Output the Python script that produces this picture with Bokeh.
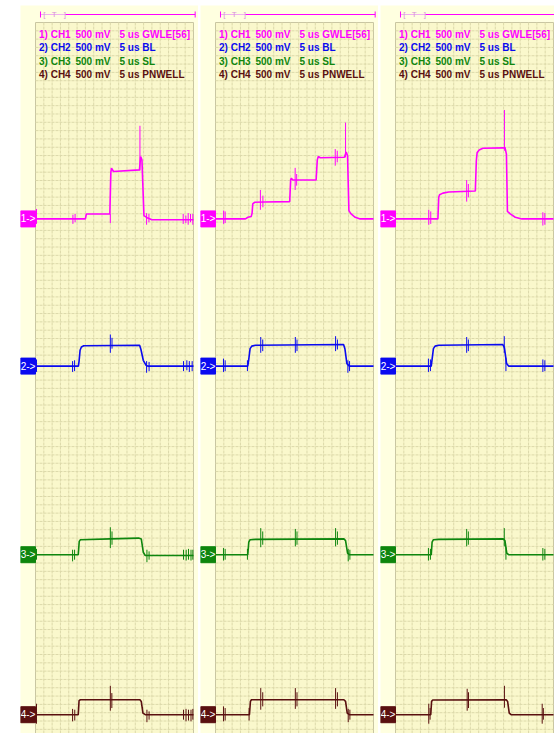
import numpy as np
from bokeh.plotting import figure
from bokeh.layouts import row
from bokeh.models import Range1d
from bokeh.core.properties import value
from bokeh.embed import file_html
from bokeh.resources import INLINE

# ---------------- data ----------------
CHANNELS = ["CH1", "CH2", "CH3", "CH4"]
VOLT_DIV = ["500 mV", "500 mV", "500 mV", "500 mV"]
TIME_DIV = ["5 us", "5 us", "5 us", "5 us"]
SIGNALS = ["GWLE[56]", "BL", "SL", "PNWELL"]
COLORS = ["#FF00FF", "#0A0AF0", "#0E860E", "#5A1010"]
# ground-marker depth below the top graticule line (V)
CH_OFFSET_V = [11.81, 20.66, 32.0, 41.62]

US_PER_DIV = 5.0
V_PER_DIV = 0.5
N_DIV_X = 19

# ---- panel 1 ----
p1_ch1_t = [0, 30.0, 30.6, 44.7, 45.3, 45.7, 46.9, 62.5, 63.2, 64.0, 65.2, 67.5, 70, 95]
p1_ch1_v = [0, 0, 0.30, 0.30, 2.8, 3.05, 2.85, 2.95, 3.75, 3.55, 0.2, 0.05, -0.05, -0.05]
p1_ch1_spk_t = [0.6, 22.5, 23.8, 45.0, 62.8, 66.8, 68.2, 88.8, 90.4, 91.8, 93.2, 94.6]
p1_ch1_spk_lo = [-0.3, -0.3, -0.2, -0.25, 2.9, -0.35, -0.2, -0.3, -0.25, -0.35, -0.2, -0.35]
p1_ch1_spk_hi = [0.6, 0.25, 0.3, 0.3, 5.6, 0.35, 0.3, 0.3, 0.2, 0.35, 0.3, 0.3]

p1_ch2_t = [0, 25.8, 26.2, 26.8, 27.6, 29, 62.6, 63.4, 64.8, 66.5, 67.5, 95]
p1_ch2_v = [0, 0, 0.3, 0.95, 1.15, 1.22, 1.25, 1.0, 0.35, 0.05, 0, 0]
p1_ch2_spk_t = [0.6, 22.3, 23.5, 45.0, 46.0, 66.8, 68.3, 89, 91, 92.5, 94.2]
p1_ch2_spk_lo = [-0.35, -0.35, -0.3, 0.8, 1.05, -0.4, -0.3, -0.3, -0.25, -0.35, -0.3]
p1_ch2_spk_hi = [0.4, 0.3, 0.35, 1.9, 1.7, 0.3, 0.25, 0.3, 0.35, 0.3, 0.3]

p1_ch3_t = [0, 25.7, 26.3, 27, 45, 62, 63.6, 64.8, 66, 95]
p1_ch3_v = [0, 0, 0.8, 0.9, 0.95, 1.0, 0.95, 0.15, -0.05, -0.05]
p1_ch3_spk_t = [0.6, 22.3, 23.5, 45.0, 46.0, 67, 68.3, 89, 90.6, 92, 93.5, 94.6]
p1_ch3_spk_lo = [-0.3, -0.4, -0.3, 0.4, 0.6, -0.45, -0.3, -0.3, -0.35, -0.3, -0.35, -0.3]
p1_ch3_spk_hi = [0.35, 0.3, 0.3, 1.65, 1.4, 0.3, 0.2, 0.3, 0.3, 0.35, 0.3, 0.3]

p1_ch4_t = [0, 25.7, 26.2, 27, 62.8, 63.6, 64.6, 66, 95]
p1_ch4_v = [0, 0, 0.85, 0.9, 0.9, 0.8, 0.1, 0, 0]
p1_ch4_spk_t = [0.6, 22.3, 23.6, 45, 45.9, 67, 68.3, 89, 90.5, 92, 93.5, 94.6]
p1_ch4_spk_lo = [-0.54, -0.4, -0.35, 0.24, 0.4, -0.45, -0.3, -0.3, -0.4, -0.35, -0.4, -0.3]
p1_ch4_spk_hi = [0.66, 0.35, 0.3, 1.74, 1.3, 0.3, 0.2, 0.3, 0.35, 0.3, 0.3, 0.35]

# ---- panel 2 ----
p2_ch1_t = [0, 18.0, 19.5, 21.5, 22.0, 22.4, 23.5, 29, 44.6, 45.2, 45.6, 46.5, 60.5, 61.2, 61.8, 63,
            77.5, 78.6, 79.4, 80.2, 81.5, 84, 87, 95]
p2_ch1_v = [0, 0, 0.1, 0.15, 0.35, 0.9, 1.0, 1.02, 1.04, 2.35, 2.45, 2.34, 2.34, 3.55, 3.75, 3.68,
            3.71, 4.03, 3.8, 0.5, 0.3, 0.1, 0, 0]
p2_ch1_spk_t = [4.9, 5.8, 27.0, 28.5, 47.9, 48.8, 72.0, 73.2, 78.2]
p2_ch1_spk_lo = [-0.3, -0.25, 0.55, 0.7, 1.74, 2.0, 3.2, 3.4, 3.7]
p2_ch1_spk_hi = [0.5, 0.45, 1.74, 1.4, 3.07, 2.7, 4.2, 4.1, 5.79]

p2_ch2_t = [0, 19.4, 20, 20.8, 21.8, 24, 77, 77.8, 79, 80.5, 95]
p2_ch2_v = [0, 0, 0.4, 1.05, 1.2, 1.25, 1.3, 1.05, 0.15, 0, 0]
p2_ch2_spk_t = [4.8, 5.8, 19.2, 27.2, 28.4, 48, 49, 72.2, 73.3, 79.6, 80.6]
p2_ch2_spk_lo = [-0.35, -0.3, -0.3, 0.8, 0.9, 0.8, 0.9, 0.9, 1.0, -0.4, -0.3]
p2_ch2_spk_hi = [0.45, 0.35, 0.35, 1.75, 1.6, 1.75, 1.6, 1.8, 1.6, 0.35, 0.3]

p2_ch3_t = [0, 19.4, 20, 20.8, 24, 77.2, 78.2, 79.4, 80.5, 95]
p2_ch3_v = [0, 0, 0.75, 0.9, 0.92, 0.95, 0.85, 0.1, 0, 0]
p2_ch3_spk_t = [4.8, 5.8, 19.2, 27.2, 28.4, 48, 49, 72.2, 73.3, 79.8, 80.8]
p2_ch3_spk_lo = [-0.35, -0.3, -0.3, 0.45, 0.6, 0.5, 0.6, 0.5, 0.6, -0.4, -0.3]
p2_ch3_spk_hi = [0.4, 0.35, 0.35, 1.6, 1.4, 1.55, 1.4, 1.6, 1.4, 0.35, 0.3]

p2_ch4_t = [0, 20.4, 21.0, 21.6, 77.2, 78.2, 79.2, 80.5, 95]
p2_ch4_v = [0, 0, 0.8, 0.9, 0.9, 0.8, 0.1, 0, 0]
p2_ch4_spk_t = [4.8, 5.8, 20.2, 27.2, 28.4, 48, 49, 72.2, 73.3, 79.8, 80.8]
p2_ch4_spk_lo = [-0.4, -0.35, -0.35, 0.3, 0.5, 0.35, 0.5, 0.35, 0.5, -0.45, -0.3]
p2_ch4_spk_hi = [0.5, 0.4, 0.4, 1.6, 1.35, 1.6, 1.35, 1.6, 1.35, 0.35, 0.3]

# ---- panel 3 ----
p3_ch1_t = [0, 25.5, 26.0, 26.5, 28.5, 32, 48.0, 48.6, 49.1, 50.3, 52.5, 64.8, 65.8, 66.7, 67.3,
            69, 72, 76, 95]
p3_ch1_v = [0, 0, 1.3, 1.45, 1.55, 1.62, 1.68, 3.5, 4.0, 4.15, 4.25, 4.27, 4.3, 3.9, 0.45,
            0.3, 0.1, 0, 0]
p3_ch1_spk_t = [20.0, 21.2, 42.8, 43.8, 65.5, 88.6, 89.8]
p3_ch1_spk_lo = [-0.35, -0.3, 1.04, 1.3, 4.1, -0.4, -0.35]
p3_ch1_spk_hi = [0.55, 0.45, 2.34, 2.1, 6.55, 0.4, 0.35]

p3_ch2_t = [0, 21.5, 22.0, 22.8, 23.8, 26, 64.5, 65.5, 66.8, 68, 95]
p3_ch2_v = [0, 0, 0.4, 1.05, 1.2, 1.25, 1.3, 1.1, 0.15, 0, 0]
p3_ch2_spk_t = [19.8, 21.0, 42.8, 43.8, 65.4, 66.4, 88.6, 89.8]
p3_ch2_spk_lo = [-0.35, -0.3, 0.8, 0.9, 0.8, -0.3, -0.35, -0.3]
p3_ch2_spk_hi = [0.45, 0.4, 1.75, 1.6, 1.8, 0.5, 0.4, 0.35]

p3_ch3_t = [0, 21.5, 22.0, 22.8, 26, 64.8, 65.8, 66.9, 68, 95]
p3_ch3_v = [0, 0, 0.75, 0.9, 0.92, 0.95, 0.85, 0.1, 0, 0]
p3_ch3_spk_t = [19.8, 21.0, 42.8, 43.8, 65.4, 66.4, 88.6, 89.8]
p3_ch3_spk_lo = [-0.35, -0.3, 0.5, 0.6, 0.5, -0.3, -0.35, -0.3]
p3_ch3_spk_hi = [0.4, 0.35, 1.55, 1.4, 1.6, 0.45, 0.4, 0.35]

p3_ch4_t = [0, 21.2, 21.7, 22.4, 66.6, 67.4, 68.4, 69.5, 95]
p3_ch4_v = [0, 0, 0.8, 0.88, 0.9, 0.8, 0.1, 0, 0]
p3_ch4_spk_t = [20.0, 20.8, 43.1, 43.9, 65.5, 88.2, 88.9]
p3_ch4_spk_lo = [-0.54, -0.3, 0.24, 0.4, 0.42, -0.54, -0.3]
p3_ch4_spk_hi = [0.66, 0.4, 1.56, 1.35, 1.74, 0.66, 0.4]

PANELS = [
    [(p1_ch1_t, p1_ch1_v, p1_ch1_spk_t, p1_ch1_spk_lo, p1_ch1_spk_hi),
     (p1_ch2_t, p1_ch2_v, p1_ch2_spk_t, p1_ch2_spk_lo, p1_ch2_spk_hi),
     (p1_ch3_t, p1_ch3_v, p1_ch3_spk_t, p1_ch3_spk_lo, p1_ch3_spk_hi),
     (p1_ch4_t, p1_ch4_v, p1_ch4_spk_t, p1_ch4_spk_lo, p1_ch4_spk_hi)],
    [(p2_ch1_t, p2_ch1_v, p2_ch1_spk_t, p2_ch1_spk_lo, p2_ch1_spk_hi),
     (p2_ch2_t, p2_ch2_v, p2_ch2_spk_t, p2_ch2_spk_lo, p2_ch2_spk_hi),
     (p2_ch3_t, p2_ch3_v, p2_ch3_spk_t, p2_ch3_spk_lo, p2_ch3_spk_hi),
     (p2_ch4_t, p2_ch4_v, p2_ch4_spk_t, p2_ch4_spk_lo, p2_ch4_spk_hi)],
    [(p3_ch1_t, p3_ch1_v, p3_ch1_spk_t, p3_ch1_spk_lo, p3_ch1_spk_hi),
     (p3_ch2_t, p3_ch2_v, p3_ch2_spk_t, p3_ch2_spk_lo, p3_ch2_spk_hi),
     (p3_ch3_t, p3_ch3_v, p3_ch3_spk_t, p3_ch3_spk_lo, p3_ch3_spk_hi),
     (p3_ch4_t, p3_ch4_v, p3_ch4_spk_t, p3_ch4_spk_lo, p3_ch4_spk_hi)],
]

# ---------------- layout (pixels) ----------------
PX_PER_DIV = 158.0 / N_DIV_X
PX_PER_US = PX_PER_DIV / US_PER_DIV
PX_PER_V = PX_PER_DIV / V_PER_DIV
FIG_H = 733
BORDER_T = 5
FRAME_H = FIG_H - BORDER_T
GRID_TOP_PX = 17          # grid top below frame top
LEFT_COL_PX = 15          # marker column width
FRAME_W = [178, 178, 174]
BORDER_L = [20, 2, 2]

OUTER_BG = "#FFFFE0"
GRID_BG = "#FAF8CC"
GRID_LINE = "#DCD9AA"
FONT = value("Liberation Sans")

figs = []
for k, chans in enumerate(PANELS):
    fw = FRAME_W[k]
    p = figure(width=fw + BORDER_L[k], height=FIG_H, output_backend="svg",
               toolbar_location=None, min_border_left=BORDER_L[k], min_border_right=0,
               min_border_top=BORDER_T, min_border_bottom=0,
               x_range=Range1d(-LEFT_COL_PX / PX_PER_US, (fw - LEFT_COL_PX) / PX_PER_US),
               y_range=Range1d(-(FRAME_H - GRID_TOP_PX) / PX_PER_V, GRID_TOP_PX / PX_PER_V))
    p.axis.visible = False
    p.xgrid.visible = False
    p.ygrid.visible = False
    p.outline_line_color = None
    p.background_fill_color = OUTER_BG
    p.border_fill_color = "white"

    t_end = N_DIV_X * US_PER_DIV
    y_bot = -(FRAME_H - GRID_TOP_PX) / PX_PER_V - 1
    p.quad(left=[0], right=[t_end], top=[0], bottom=[y_bot], fill_color=GRID_BG,
           line_color="#C9C6A2", line_width=1)
    xs = np.arange(1, N_DIV_X) * US_PER_DIV
    p.segment(x0=xs, y0=0, x1=xs, y1=y_bot, line_color=GRID_LINE, line_width=1, line_dash="3 1")
    ys = -np.arange(1, 90) * V_PER_DIV
    p.segment(x0=0, y0=ys, x1=t_end, y1=ys, line_color=GRID_LINE, line_width=1, line_dash="3 1")

    # header: trigger / time cursor line
    hy = 8 / PX_PER_V
    tick = 3 / PX_PER_V
    p.segment(x0=[3.0], y0=[hy], x1=[18.0], y1=[hy], line_color="#F0B0F0", line_width=1)
    p.segment(x0=[18.0], y0=[hy], x1=[96.0], y1=[hy], line_color="#FF00FF", line_width=1)
    p.segment(x0=[3.0, 96.0], y0=[hy - tick] * 2, x1=[3.0, 96.0], y1=[hy + tick] * 2,
              line_color="#FF00FF", line_width=1)
    p.text(x=[4.6, 9.8, 17.0], y=[hy] * 3, text=["[", "T", "]"], text_color="#D890D8",
           text_font=FONT, text_font_size="8px", text_baseline="middle", text_align="left")

    for i in range(4):
        yrow = -(11.5 + 13.5 * i) / PX_PER_V
        p.text(x=[2.1, 24.0, 50.5], y=[yrow] * 3,
               text=[f"{i + 1}) {CHANNELS[i]}", VOLT_DIV[i], f"{TIME_DIV[i]} {SIGNALS[i]}"],
               text_color=COLORS[i], text_font=FONT, text_font_size="10px",
               text_font_style="bold", text_baseline="middle", text_align="left")

    for i, (t, v, st, slo, shi) in enumerate(chans):
        off = -CH_OFFSET_V[i]
        p.line(t, np.array(v) + off, line_color=COLORS[i], line_width=1.6)
        p.segment(x0=st, y0=np.array(slo) + off, x1=st, y1=np.array(shi) + off,
                  line_color=COLORS[i], line_width=1)
        # channel marker
        hh = 8 / PX_PER_V
        p.quad(left=[-LEFT_COL_PX / PX_PER_US], right=[0], top=[off + hh], bottom=[off - hh],
               fill_color=COLORS[i], line_color=COLORS[i])
        p.text(x=[-LEFT_COL_PX / PX_PER_US / 2], y=[off], text=[f"{i + 1}->"],
               text_color="white", text_font=FONT, text_font_size="10px",
               text_baseline="middle", text_align="center")
    figs.append(p)

layout = row(*figs, spacing=0)
open("out.html", "w").write(file_html(layout, INLINE))
